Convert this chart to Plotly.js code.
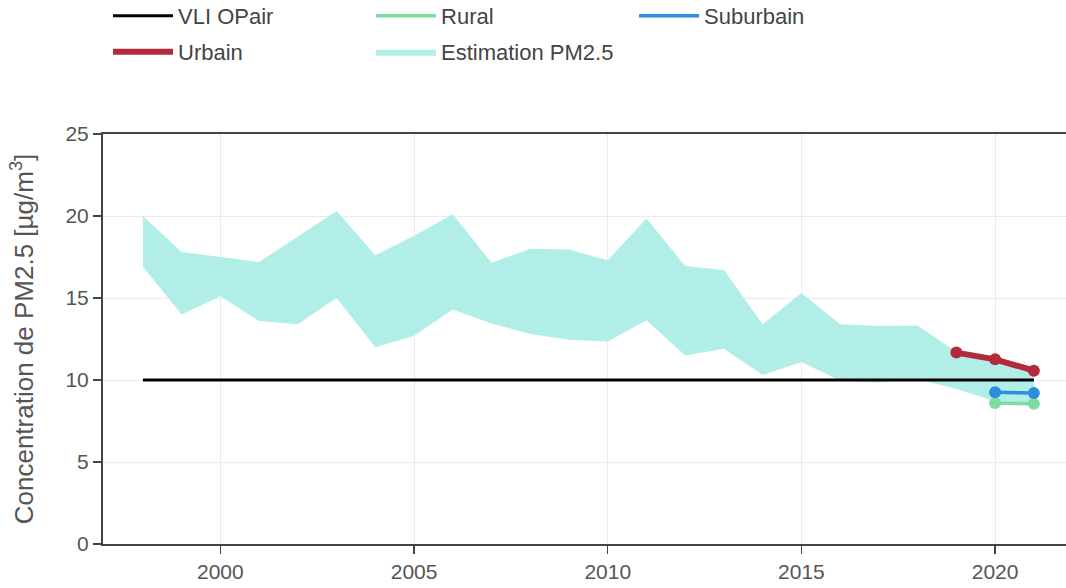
<!DOCTYPE html>
<html>
<head>
<meta charset="utf-8">
<script src="https://cdn.plot.ly/plotly-3.0.1.min.js"></script>
<style>html,body{margin:0;padding:0;background:#fff;}#chart{width:1066px;height:588px;}</style>
</head>
<body>
<div id="chart"></div>
<script>
// ---- data ----
const bandYears = [1998,1999,2000,2001,2002,2003,2004,2005,2006,2007,2008,2009,2010,2011,2012,2013,2014,2015,2016,2017,2018,2019,2020,2021];
const bandUpper = [20.0,17.8,17.5,17.2,18.75,20.3,17.6,18.8,20.1,17.15,18.0,17.95,17.3,19.85,16.95,16.7,13.4,15.3,13.4,13.3,13.33,11.7,11.1,10.4];
const bandLower = [16.9,14.0,15.1,13.6,13.4,15.0,12.0,12.7,14.3,13.45,12.8,12.45,12.35,13.65,11.5,11.9,10.3,11.1,9.95,9.85,10.05,9.45,8.7,8.6];
const vliYears = [1998, 2021];
const vliValues = [10, 10];
const urbanYears = [2019, 2020, 2021];
const urbanValues = [11.67, 11.26, 10.57];
const suburbanYears = [2020, 2021];
const suburbanValues = [9.25, 9.2];
const ruralYears = [2020, 2021];
const ruralValues = [8.6, 8.55];
const xTickVals = [2000, 2005, 2010, 2015, 2020];
const yTickVals = [0, 5, 10, 15, 20, 25];

// ---- styles ----
const cBand = '#b2eee8', cVli = '#000000', cUrban = '#b22a3b', cSub = '#2f8edb', cRural = '#7ddca0';

const traces = [
  {x: bandYears, y: bandLower, type: 'scatter', mode: 'lines', line: {width: 0, color: cBand}, showlegend: false, hoverinfo: 'skip'},
  {x: bandYears, y: bandUpper, type: 'scatter', mode: 'lines', fill: 'tonexty', fillcolor: cBand, line: {width: 0, color: cBand}, name: 'Estimation PM2.5', legend: 'legend2', legendrank: 2},
  {x: vliYears, y: vliValues, type: 'scatter', mode: 'lines', line: {width: 3, color: cVli}, name: 'VLI OPair', legend: 'legend', legendrank: 1},
  {x: ruralYears, y: ruralValues, type: 'scatter', mode: 'lines', line: {width: 3.5, color: cRural}, name: 'Rural', legend: 'legend', legendrank: 2},
  {x: suburbanYears, y: suburbanValues, type: 'scatter', mode: 'lines', line: {width: 3.5, color: cSub}, name: 'Suburbain', legend: 'legend', legendrank: 3},
  {x: urbanYears, y: urbanValues, type: 'scatter', mode: 'lines', line: {width: 6, color: cUrban}, name: 'Urbain', legend: 'legend2', legendrank: 1},
  {x: ruralYears, y: ruralValues, type: 'scatter', mode: 'markers', marker: {size: 12, color: cRural}, showlegend: false},
  {x: suburbanYears, y: suburbanValues, type: 'scatter', mode: 'markers', marker: {size: 12, color: cSub}, showlegend: false},
  {x: urbanYears, y: urbanValues, type: 'scatter', mode: 'markers', marker: {size: 12, color: cUrban}, showlegend: false}
];

const legendBase = {
  orientation: 'h', entrywidth: 188, entrywidthmode: 'pixels', itemwidth: 60,
  font: {family: 'Liberation Sans, Arial, sans-serif', size: 22, color: '#444'},
  bgcolor: 'rgba(0,0,0,0)', xanchor: 'left', yanchor: 'middle', traceorder: 'normal'
};

const layout = {
  width: 1066, height: 588,
  margin: {l: 103, r: 0, t: 134, b: 44, pad: 0, autoexpand: false},
  paper_bgcolor: '#fff', plot_bgcolor: '#fff',
  font: {family: 'Liberation Sans, Arial, sans-serif', size: 21, color: '#555'},
  showlegend: true,
  legend: Object.assign({}, legendBase, {x: 0.0052, y: (544 - 16) / 410}),
  legend2: Object.assign({}, legendBase, {x: 0.0052, y: (544 - 52) / 410}),
  xaxis: {
    range: [1996.97, 2021.83], tickvals: xTickVals, ticktext: xTickVals.map(String),
    showgrid: true, gridcolor: '#ebebeb', gridwidth: 1, zeroline: false,
    showline: true, linecolor: '#444', linewidth: 2, mirror: true,
    ticks: 'outside', ticklen: 8, tickwidth: 1.5, tickcolor: '#444',
    tickfont: {size: 21, color: '#555'}, automargin: false
  },
  yaxis: {
    range: [0, 25], tickvals: yTickVals, ticktext: yTickVals.map(String),
    showgrid: true, gridcolor: '#ebebeb', gridwidth: 1, zeroline: false,
    showline: true, linecolor: '#444', linewidth: 2, mirror: false,
    ticks: 'outside', ticklen: 8, tickwidth: 1.5, tickcolor: '#444',
    tickfont: {size: 21, color: '#555'}, automargin: false,
    title: {text: 'Concentration de PM2.5 [µg/m<sup>3</sup>]', font: {size: 26, color: '#555'}, standoff: 24}
  }
};

Plotly.newPlot('chart', traces, layout, {displayModeBar: false, staticPlot: true});
</script>
</body>
</html>
